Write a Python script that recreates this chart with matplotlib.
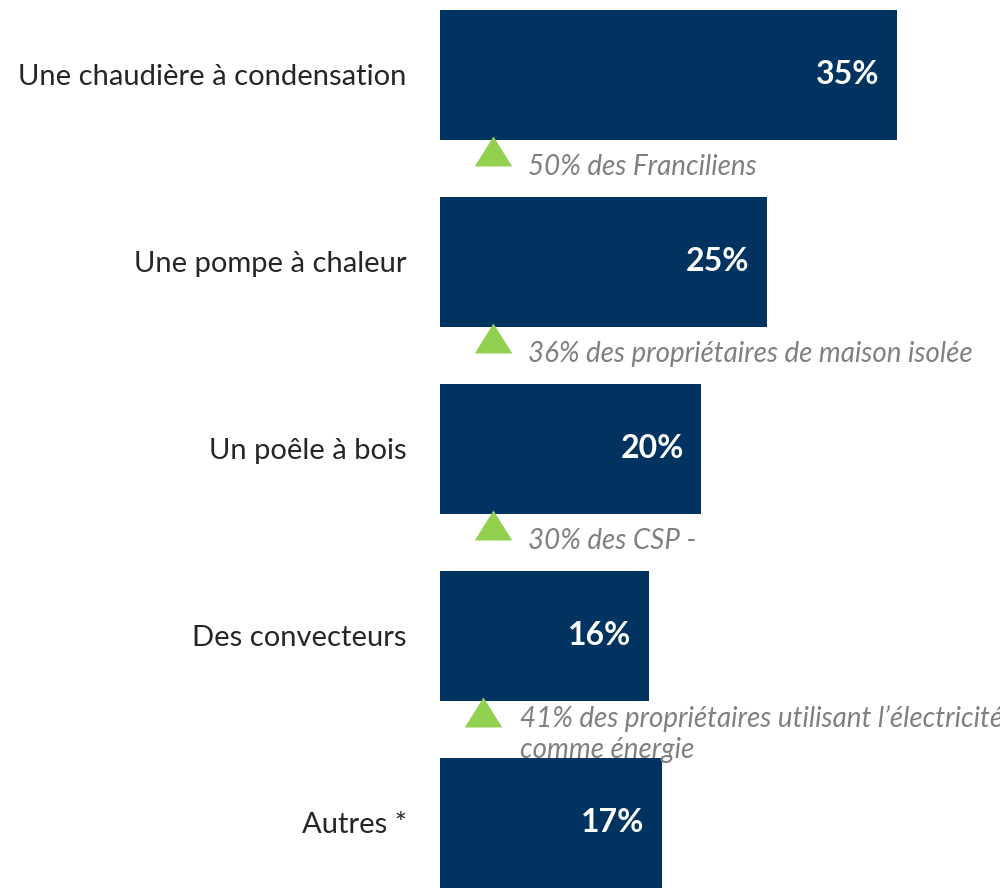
import numpy as np
import matplotlib.pyplot as plt

plt.rcParams['font.family'] = ['Lato', 'DejaVu Sans']

categories = ["Une chaudière à condensation", "Une pompe à chaleur",
              "Un poêle à bois", "Des convecteurs", "Autres *"]
values = [35, 25, 20, 16, 17]
notes = ["50% des Franciliens",
         "36% des propriétaires de maison isolée",
         "30% des CSP -",
         "41% des propriétaires utilisant l\u2019électricité\ncomme énergie",
         None]

bar_color = "#00335F"
green = "#92D050"
grey = "#808080"

fig = plt.figure(figsize=(10, 8.89), dpi=100)
ax = fig.add_axes([0.44, 0.0, 0.56, 1.0])

y = np.arange(len(categories))
ax.barh(y, values, height=0.695, color=bar_color)

for i, v in enumerate(values):
    ax.text(v - 1.35, i, f"{v}%", ha="right", va="center",
            color="white", fontsize=23, fontweight="bold")

tri = [(0, 0.8), (-1, -0.8), (1, -0.8), (0, 0.8)]
for i, note in enumerate(notes):
    if note is None:
        continue
    two = "\n" in note
    tx, nx = (3.3, 6.1) if two else (4.06, 6.73)
    ax.plot(tx, i + 0.405, marker=tri, markersize=27, color=green,
            markeredgewidth=0, clip_on=False)
    ax.text(nx, i + (0.525 if two else 0.49), note,
            ha="left", va="center", color=grey, fontsize=20,
            fontstyle="italic", linespacing=1.22, clip_on=False)

ax.set_xlim(0, 42.85)
ax.set_ylim(4.353, -0.401)
ax.set_yticks(y)
ax.set_yticklabels(categories, fontsize=21, color="#262626")
ax.tick_params(axis="y", length=0, pad=24)
ax.set_xticks([])
for s in ax.spines.values():
    s.set_visible(False)

fig.savefig("out.png", dpi=100)
